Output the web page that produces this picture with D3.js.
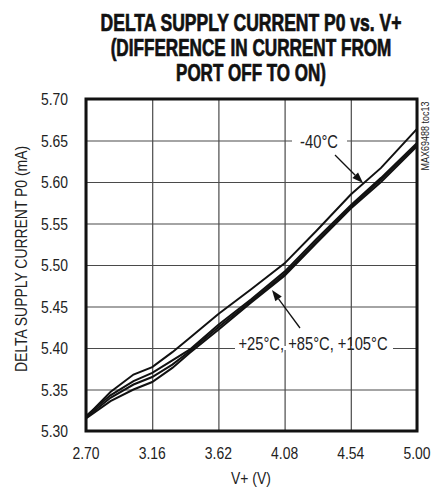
<!DOCTYPE html>
<html>
<head>
<meta charset="utf-8">
<script src="https://cdn.jsdelivr.net/npm/d3@7"></script>
<style>
  body { margin: 0; background: #fff; }
  svg { display: block; }
  text { font-family: "Liberation Sans", Arial, sans-serif; fill: #222; }
</style>
</head>
<body>
<div id="chart"></div>
<script>
var w = 432;
var h = 487;

// chart values
var xTicks = [2.70, 3.16, 3.62, 4.08, 4.54, 5.00];
var yTicks = [5.30, 5.35, 5.40, 5.45, 5.50, 5.55, 5.60, 5.65, 5.70];
var voltage = [2.70, 2.87, 3.03, 3.16, 3.30, 3.42, 3.62, 3.85, 4.08, 4.30, 4.54, 4.75, 5.00];
var currMinus40 = [5.317, 5.347, 5.368, 5.377, 5.395, 5.412, 5.441, 5.471, 5.502, 5.541, 5.585, 5.617, 5.664];
var curr25 = [5.318, 5.343, 5.360, 5.370, 5.385, 5.398, 5.428, 5.459, 5.492, 5.531, 5.572, 5.605, 5.647];
var curr85 = [5.316, 5.340, 5.356, 5.365, 5.380, 5.396, 5.425, 5.457, 5.489, 5.528, 5.570, 5.603, 5.645];
var curr105 = [5.315, 5.336, 5.350, 5.359, 5.376, 5.394, 5.422, 5.455, 5.487, 5.526, 5.568, 5.600, 5.643];
var titleLines = ["DELTA SUPPLY CURRENT P0 vs. V+", "(DIFFERENCE IN CURRENT FROM", "PORT OFF TO ON)"];

var m = {left: 86, top: 99, right: 15, bottom: 56};
var narrow = 0.82; // squeeze to mimic a narrow face

var svg = d3.select("#chart").append("svg")
  .attr("width", w)
  .attr("height", h);

var x = d3.scaleLinear().domain([2.70, 5.00]).range([m.left, w - m.right]);
var y = d3.scaleLinear().domain([5.30, 5.70]).range([h - m.bottom, m.top]);

// text helper: narrow text at (tx, ty), optional rotation
function label(tx, ty, str, size, anchor, rot, sx) {
  var t = svg.append("text")
    .attr("transform", "translate(" + tx + "," + ty + ")" + (rot ? " rotate(" + rot + ")" : "") +
      " scale(" + (sx || narrow) + ",1)")
    .attr("text-anchor", anchor || "middle")
    .style("font-size", size + "px")
    .text(str);
  return t;
}

// title, squeezed to the reference widths
var titleWidths = [301, 281, 150];
titleLines.forEach(function(t, i) {
  var el = label(251, 31 + i * 25, t, 23, "middle", 0, 1)
    .style("font-weight", "bold")
    .style("fill", "#111")
    .style("stroke", "#111")
    .style("stroke-width", 0.7);
  var len = el.node().getComputedTextLength();
  el.attr("transform", "translate(251," + (31 + i * 25) + ") scale(" + (titleWidths[i] / len) + ",1)");
});

// grid
svg.append("g")
  .attr("transform", "translate(0," + (h - m.bottom) + ")")
  .call(d3.axisBottom(x).tickValues(xTicks).tickSize(-(h - m.bottom - m.top)).tickFormat(""))
  .call(function(g) {
    g.select(".domain").remove();
    g.selectAll("line").attr("stroke", "#4a4a4a").attr("stroke-width", 1.2);
  });

svg.append("g")
  .attr("transform", "translate(" + m.left + ",0)")
  .call(d3.axisLeft(y).tickValues(yTicks).tickSize(-(w - m.left - m.right)).tickFormat(""))
  .call(function(g) {
    g.select(".domain").remove();
    g.selectAll("line").attr("stroke", "#4a4a4a").attr("stroke-width", 1.2);
  });

// tick labels
xTicks.forEach(function(d) {
  label(x(d), h - m.bottom + 28, d.toFixed(2), 17, "middle");
});
yTicks.forEach(function(d) {
  label(68, y(d) + 6, d.toFixed(2), 17, "end");
});

// axis titles
label(27, 259, "DELTA SUPPLY CURRENT P0 (mA)", 17, "middle", -90);
label(251, 484, "V+ (V)", 17, "middle");
label(429, 136, "MAX69488 toc13", 11, "middle", -90);

// curves
var line = d3.line()
  .x(function(d) { return x(d[0]); })
  .y(function(d) { return y(d[1]); });

[curr105, curr85, curr25, currMinus40].forEach(function(s) {
  svg.append("path")
    .datum(d3.zip(voltage, s))
    .attr("d", line)
    .attr("fill", "none")
    .attr("stroke", "#111")
    .attr("stroke-width", 2);
});

// frame
svg.append("rect")
  .attr("x", m.left)
  .attr("y", m.top)
  .attr("width", w - m.left - m.right)
  .attr("height", h - m.top - m.bottom)
  .attr("fill", "none")
  .attr("stroke", "#111")
  .attr("stroke-width", 3);

// annotations
function arrow(x1, y1, x2, y2) {
  var a = Math.atan2(y2 - y1, x2 - x1);
  var len = 11, half = 4;
  var bx = x2 - len * Math.cos(a), by = y2 - len * Math.sin(a);
  svg.append("line")
    .attr("x1", x1).attr("y1", y1).attr("x2", bx).attr("y2", by)
    .attr("stroke", "#111").attr("stroke-width", 1.3);
  svg.append("path")
    .attr("d", "M" + x2 + "," + y2 +
      "L" + (bx + half * Math.sin(a)) + "," + (by - half * Math.cos(a)) +
      "L" + (bx - half * Math.sin(a)) + "," + (by + half * Math.cos(a)) + "Z")
    .attr("fill", "#111");
}

svg.append("rect").attr("x", 292).attr("y", y(5.65) - 2).attr("width", 55).attr("height", 4).attr("fill", "#fff");
label(319, 148, "-40°C", 18, "middle");
arrow(335, 155, 363, 183);

svg.append("rect").attr("x", 235).attr("y", y(5.40) - 2).attr("width", 158).attr("height", 4).attr("fill", "#fff");
label(313, 350, "+25°C, +85°C, +105°C", 18, "middle");
arrow(300, 328, 272, 290);
</script>
</body>
</html>
